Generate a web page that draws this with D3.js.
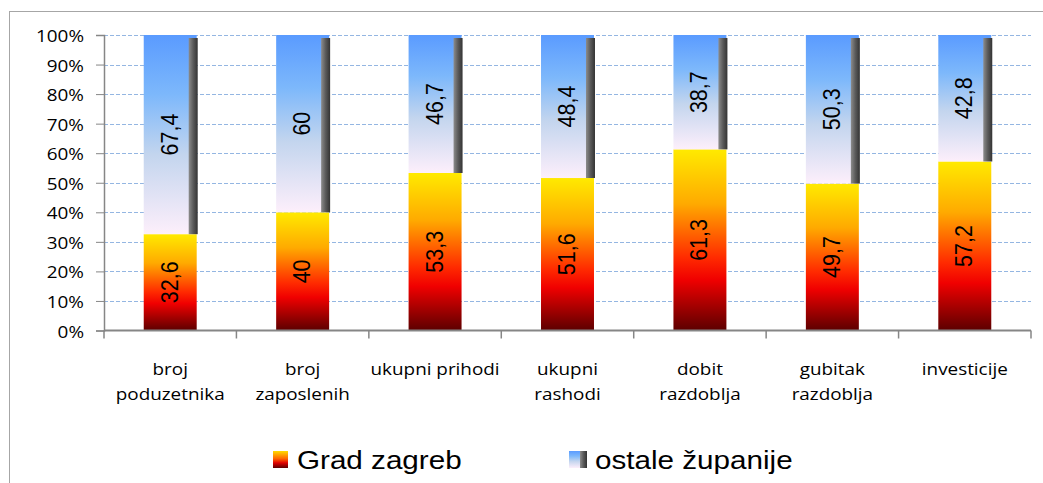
<!DOCTYPE html>
<html>
<head>
<meta charset="utf-8">
<script src="https://cdn.jsdelivr.net/npm/d3@7"></script>
<style>
  html, body { margin: 0; padding: 0; background: #fff; }
  svg { display: block; }
</style>
</head>
<body>
<div class="chart"></div>
<script>
const w = 1043;
const h = 483;

const categories = ["broj\npoduzetnika", "broj\nzaposlenih", "ukupni prihodi",
                    "ukupni\nrashodi", "dobit\nrazdoblja", "gubitak\nrazdoblja", "investicije"];
const gradZagreb = [32.6, 40, 53.3, 51.6, 61.3, 49.7, 57.2];
const ostale = [67.4, 60, 46.7, 48.4, 38.7, 50.3, 42.8];
const yTicks = [0, 10, 20, 30, 40, 50, 60, 70, 80, 90, 100];
const seriesNames = ["Grad zagreb", "ostale županije"];

const plot = {left: 104, right: 1031, top: 35, bottom: 330.5};
const labelFont = "'Open Sans', 'Noto Sans', sans-serif";
const valueFont = "'Liberation Sans', Arial, sans-serif";

const svg = d3.select(".chart").append("svg").attr("width", w).attr("height", h);

// gradients
const defs = svg.append("defs");
const gZ = defs.append("linearGradient").attr("id", "gZag").attr("x1", 0).attr("y1", 0).attr("x2", 0).attr("y2", 1);
[[0, "#ffea00"], [0.3, "#ffaa00"], [0.6, "#ff2a00"], [0.72, "#f00000"], [1, "#5c0000"]]
  .forEach(s => gZ.append("stop").attr("offset", s[0]).attr("stop-color", s[1]));
const gO = defs.append("linearGradient").attr("id", "gOst").attr("x1", 0).attr("y1", 0).attr("x2", 0).attr("y2", 1);
[[0, "#5a9bff"], [0.3, "#7db8fb"], [0.6, "#c3d5ee"], [1, "#fdeffb"]]
  .forEach(s => gO.append("stop").attr("offset", s[0]).attr("stop-color", s[1]));
const gS = defs.append("linearGradient").attr("id", "gSide").attr("x1", 0).attr("y1", 0).attr("x2", 1).attr("y2", 0);
[[0, "#8c8c8c"], [0.5, "#5a5a5a"], [1, "#333333"]]
  .forEach(s => gS.append("stop").attr("offset", s[0]).attr("stop-color", s[1]));
const gL1 = defs.append("linearGradient").attr("id", "gLeg1").attr("x1", 0).attr("y1", 0).attr("x2", 0).attr("y2", 1);
[[0, "#ffdd00"], [0.45, "#ff6600"], [0.7, "#e00000"], [1, "#5c0000"]]
  .forEach(s => gL1.append("stop").attr("offset", s[0]).attr("stop-color", s[1]));

// outer frame
svg.append("rect")
  .attr("x", 9.5).attr("y", 11.5).attr("width", w + 20).attr("height", h + 20)
  .attr("fill", "none").attr("stroke", "#a6a6a6").attr("stroke-width", 1);

const xScale = d3.scaleBand().domain(categories).range([plot.left, plot.right]);
const yScale = d3.scaleLinear().domain([0, 100]).range([plot.bottom, plot.top]);
const barW = xScale.bandwidth() * 0.4;
const barX = d => xScale(d) + (xScale.bandwidth() - barW) / 2;

// stretched text helper
function stext(g, x, y, str, size, family, sx, anchor, rot) {
  return g.append("text")
    .attr("transform", `translate(${x},${y}) scale(${sx},1)` + (rot ? ` rotate(${rot})` : ""))
    .attr("font-family", family).attr("font-size", size).attr("font-weight", 400)
    .attr("text-anchor", anchor).attr("fill", "#000")
    .text(str);
}

// gridlines
svg.append("g").selectAll("line")
  .data(yTicks.filter(t => t > 0))
  .enter().append("line")
  .attr("x1", plot.left).attr("x2", plot.right)
  .attr("y1", d => Math.round(yScale(d)) + 0.5).attr("y2", d => Math.round(yScale(d)) + 0.5)
  .attr("stroke", "#94b6e2").attr("stroke-width", 1).attr("stroke-dasharray", "4,2");

// y axis
const yAxis = d3.axisLeft(yScale).tickValues(yTicks).tickSize(8).tickFormat(d => "");
const yg = svg.append("g").attr("transform", `translate(${plot.left},0)`).call(yAxis);
yg.select(".domain").attr("stroke", "#868686").attr("stroke-width", 1.5);
yg.selectAll(".tick line").attr("stroke", "#868686");
const ylab = svg.append("g");
yTicks.forEach(t => stext(ylab, 84, yScale(t) + 7, t + "%", 15.5, labelFont, 1.22, "end"));

// bars
const bars = svg.append("g");
categories.forEach((c, i) => {
  const x = barX(c);
  bars.append("rect")
    .attr("x", x).attr("width", barW)
    .attr("y", yScale(gradZagreb[i])).attr("height", yScale(0) - yScale(gradZagreb[i]))
    .attr("fill", "url(#gZag)");
  bars.append("rect")
    .attr("x", x).attr("width", barW)
    .attr("y", yScale(100)).attr("height", yScale(gradZagreb[i]) - yScale(100))
    .attr("fill", "url(#gOst)");
  bars.append("rect")
    .attr("x", x + barW - 8).attr("width", 9)
    .attr("y", yScale(100) + 3).attr("height", yScale(gradZagreb[i]) - yScale(100) - 3)
    .attr("fill", "url(#gSide)");
});

// x axis
const xg = svg.append("g").attr("transform", `translate(0,${plot.bottom})`);
xg.append("line").attr("x1", plot.left).attr("x2", plot.right)
  .attr("stroke", "#868686").attr("stroke-width", 2);
xg.selectAll(".tk").data(categories.concat([null])).enter().append("line")
  .attr("x1", (d, i) => plot.left + i * xScale.bandwidth())
  .attr("x2", (d, i) => plot.left + i * xScale.bandwidth())
  .attr("y1", 0).attr("y2", 8)
  .attr("stroke", "#868686").attr("stroke-width", 1.5);

// category labels
const clab = svg.append("g");
categories.forEach(c => {
  const cx = xScale(c) + xScale.bandwidth() / 2;
  c.split("\n").forEach((ln, j) => stext(clab, cx, 375 + j * 25, ln, 16, labelFont, 1.18, "middle"));
});

// value labels
const fmt = v => String(v).replace(".", ",");
const vlab = svg.append("g");
categories.forEach((c, i) => {
  const cx = xScale(c) + xScale.bandwidth() / 2 + 7.5;
  stext(vlab, cx, yScale(gradZagreb[i] / 2), fmt(gradZagreb[i]), 21.5, valueFont, 1.1, "middle", -90);
  stext(vlab, cx, yScale(gradZagreb[i] + ostale[i] / 2), fmt(ostale[i]), 21.5, valueFont, 1.1, "middle", -90);
});

// legend
const lg = svg.append("g");
lg.append("rect").attr("x", 273).attr("y", 451).attr("width", 15).attr("height", 17).attr("fill", "url(#gLeg1)");
stext(lg, 297, 469, seriesNames[0], 26, valueFont, 1.14, "start");
lg.append("rect").attr("x", 569).attr("y", 451).attr("width", 12).attr("height", 17).attr("fill", "url(#gOst)");
lg.append("rect").attr("x", 580).attr("y", 451).attr("width", 7).attr("height", 17).attr("fill", "url(#gSide)");
stext(lg, 595, 469, seriesNames[1], 26, valueFont, 1.14, "start");
</script>
</body>
</html>
